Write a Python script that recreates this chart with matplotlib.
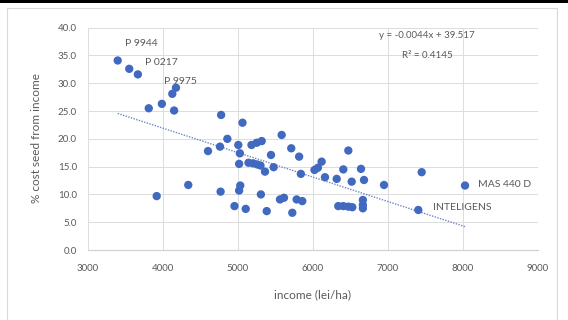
import matplotlib
matplotlib.use("Agg")
import matplotlib.pyplot as plt
import matplotlib.patches as mpatches
import numpy as np

# income (lei/ha) vs % cost of seed from income
income = [3396, 3550, 3665, 3810, 3985, 4148, 4124, 4173, 3916, 4337,
          4600, 4760, 4775, 4768, 4858, 4953, 5004, 5025, 5015, 5030,
          5015, 5060, 5103, 5180, 5250, 5316, 5140, 5200, 5255, 5300,
          5360, 5475, 5305, 5383, 5440, 5582, 5560, 5613, 5710, 5724,
          5815, 5782, 5857, 5838, 6020, 6065, 6115, 6160, 6316, 6404,
          6471, 6516, 6337, 6404, 6471, 6524, 6640, 6680, 6665, 6665,
          6665, 6947, 7404, 7449, 8027]
pct_cost = [34.1, 32.6, 31.6, 25.5, 26.3, 25.1, 28.1, 29.2, 9.7, 11.7,
            17.8, 18.6, 24.3, 10.5, 20.0, 7.9, 18.9, 17.4, 15.5, 11.6,
            10.7, 22.9, 7.4, 18.9, 19.3, 19.6, 15.7, 15.6, 15.4, 15.2,
            14.1, 14.9, 10.0, 7.0, 17.1, 20.7, 9.1, 9.4, 18.3, 6.7,
            16.8, 9.1, 8.8, 13.7, 14.4, 14.8, 15.9, 13.1, 12.8, 14.5,
            17.9, 12.3, 7.9, 7.9, 7.8, 7.7, 14.6, 12.6, 9.0, 8.1,
            7.5, 11.7, 7.2, 14.0, 11.6]

# labelled hybrids: (name, index of point)
labels = ["P 9944", "P 0217", "P 9975", "MAS 440 D", "INTELIGENS"]
label_idx = [0, 1, 7, 64, 62]
label_offsets = [(7, 17), (16, 6), (-12, 6), (13, 1), (15, 2)]  # pixels

slope, intercept, r2 = -0.0044, 39.517, 0.4145

plt.rcParams["font.family"] = ["Lato", "DejaVu Sans"]
text_col = "#595959"

fig = plt.figure(figsize=(5.68, 3.2), dpi=100)
fig.patch.set_facecolor("white")

# black strip on top and light chart frame
fig.add_artist(mpatches.Rectangle((0, 1 - 3 / 320), 1, 3 / 320,
                                  transform=fig.transFigure, color="black", lw=0))
fig.add_artist(mpatches.Rectangle((7 / 568, -0.05), 550 / 568, 1.05 - 8 / 320,
                                  transform=fig.transFigure, fill=False,
                                  edgecolor="#d9d9d9", lw=0.8))

ax = fig.add_axes([88 / 568, 1 - 250 / 320, 450 / 568, 222.3 / 320])
ax.set_xlim(3000, 9000)
ax.set_ylim(0, 40)
ax.set_xticks(np.arange(3000, 9001, 1000))
ax.set_yticks(np.arange(0, 40.1, 5))
ax.set_yticklabels([f"{v:.1f}" for v in np.arange(0, 40.1, 5)])
ax.grid(True, color="#dcdcdc", lw=0.7)
ax.set_axisbelow(True)
for side in ["top", "right", "left"]:
    ax.spines[side].set_visible(False)
ax.spines["bottom"].set_color("#cfcfcf")
ax.tick_params(length=0, labelsize=7, colors=text_col)
ax.tick_params(axis="x", pad=10)
ax.tick_params(axis="y", pad=8)

ax.scatter(income, pct_cost, s=36, color="#4169c0", edgecolors="none", zorder=3)

xs = np.array([min(income), max(income)])
ax.plot(xs, slope * xs + intercept, ls=(0, (1, 1)), color="#6d86c4", lw=1.0, zorder=2)

for name, i, (dx, dy) in zip(labels, label_idx, label_offsets):
    ax.annotate(name, (income[i], pct_cost[i]), xytext=(dx, dy),
                textcoords="offset pixels", fontsize=7.5, color=text_col,
                ha="left", va="center")

ax.text(427 / 568, 1 - 35 / 320, f"y = {slope}x + {intercept}", transform=fig.transFigure,
        fontsize=7, color=text_col, ha="center", va="center")
ax.text(427 / 568, 1 - 55 / 320, f"R² = {r2}", transform=fig.transFigure,
        fontsize=7, color=text_col, ha="center", va="center")

fig.text(36 / 568, 1 - 138 / 320, "% cost seed from income", rotation=90,
         fontsize=8.5, color=text_col, ha="center", va="center")
fig.text(312 / 568, 1 - 295 / 320, "income (lei/ha)", fontsize=8.5,
         color=text_col, ha="center", va="center")

fig.savefig("out.png", dpi=100)
